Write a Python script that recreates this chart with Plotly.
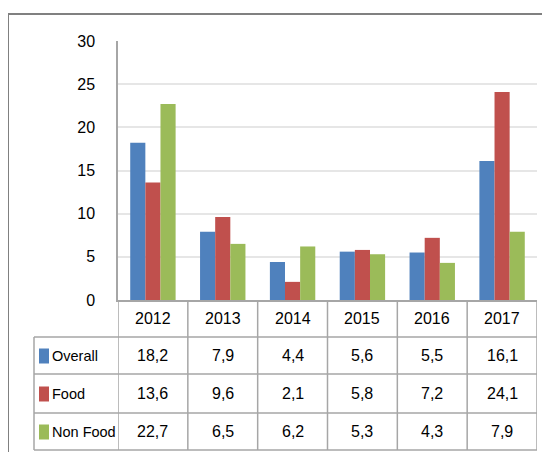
import plotly.graph_objects as go

years = ["2012", "2013", "2014", "2015", "2016", "2017"]
series_names = ["Overall", "Food", "Non Food"]
overall = [18.2, 7.9, 4.4, 5.6, 5.5, 16.1]
food = [13.6, 9.6, 2.1, 5.8, 7.2, 24.1]
non_food = [22.7, 6.5, 6.2, 5.3, 4.3, 7.9]
y_ticks = [0, 5, 10, 15, 20, 25, 30]

series_values = [overall, food, non_food]
colors = ["#4F81BD", "#C0504D", "#9BBB59"]

W, H = 550, 452
OFF = 8  # page body margin offset
L, T = 118 - OFF, 41 - OFF
R = W - (537 - OFF)
B = H - (300 - OFF)
PW = W - L - R
PH = H - T - B

FONT = "Liberation Sans, Arial, sans-serif"
GRID_LINE = "#A6A6A6"


def px(xp):
    return (xp - OFF - L) / PW


def py(yp):
    return (H - B - (yp - OFF)) / PH


fig = go.Figure()
for name, vals, col in zip(series_names, series_values, colors):
    fig.add_trace(go.Bar(x=years, y=vals, name=name, marker_color=col,
                         marker_line_width=0, showlegend=False))

shapes = []
annotations = []

header_top, header_bot = 300, 337
row_edges = [337, 374, 413, 450]
legend_left = 34

for ye in row_edges:
    shapes.append(dict(type="line", xref="paper", yref="paper", x0=px(legend_left), x1=1,
                       y0=py(ye), y1=py(ye), line=dict(color=GRID_LINE, width=1.5)))
for i in range(len(years) + 1):
    shapes.append(dict(type="line", xref="x", yref="paper", x0=i - 0.5, x1=i - 0.5,
                       y0=0, y1=py(row_edges[-1]), line=dict(color=GRID_LINE, width=1.5)))
shapes.append(dict(type="line", xref="paper", yref="paper", x0=px(legend_left), x1=px(legend_left),
                   y0=py(header_bot), y1=py(row_edges[-1]), line=dict(color=GRID_LINE, width=1.5)))

# outer frame (top and left)
shapes.append(dict(type="path", xref="paper", yref="paper",
                   path=f"M {px(8)},{py(470)} L {px(8)},{py(14)} L {px(570)},{py(14)}",
                   line=dict(color="#808080", width=2)))

for i, yr in enumerate(years):
    annotations.append(dict(x=i, y=py((header_top + header_bot) / 2), xref="x", yref="paper",
                            text=yr, showarrow=False, xanchor="center", yanchor="middle",
                            font=dict(size=16, color="black", family=FONT)))

for r, (name, vals, col) in enumerate(zip(series_names, series_values, colors)):
    ymid = (row_edges[r] + row_edges[r + 1]) / 2
    for i, v in enumerate(vals):
        annotations.append(dict(x=i, y=py(ymid), xref="x", yref="paper",
                                text=f"{v:.1f}".replace(".", ","), showarrow=False,
                                xanchor="center", yanchor="middle",
                                font=dict(size=16, color="black", family=FONT)))
    shapes.append(dict(type="rect", xref="paper", yref="paper",
                       x0=px(39), x1=px(49), y0=py(ymid - 7), y1=py(ymid + 8),
                       fillcolor=col, line=dict(width=0)))
    annotations.append(dict(x=px(50), y=py(ymid), xref="paper", yref="paper",
                            text=name, showarrow=False, xanchor="left", yanchor="middle",
                            font=dict(size=14.5, color="black", family=FONT)))

fig.update_layout(
    width=W, height=H,
    margin=dict(l=L, r=R, t=T, b=B),
    paper_bgcolor="white", plot_bgcolor="white",
    barmode="group", bargap=0.35, bargroupgap=0,
    font=dict(family=FONT, color="black"),
    shapes=shapes, annotations=annotations,
)
fig.update_xaxes(type="category", range=[-0.5, len(years) - 0.5], showticklabels=False,
                 showgrid=False, showline=True, linecolor=GRID_LINE, linewidth=1.5,
                 zeroline=False, ticks="")
fig.update_yaxes(range=[0, 30], tickvals=y_ticks, showgrid=True, gridcolor="#E6E6E6",
                 gridwidth=1.5, showline=True, linecolor=GRID_LINE, linewidth=1.5,
                 zeroline=False, ticks="", ticklabelstandoff=18,
                 tickfont=dict(size=16, color="black", family=FONT))

fig.write_html("out.html")
